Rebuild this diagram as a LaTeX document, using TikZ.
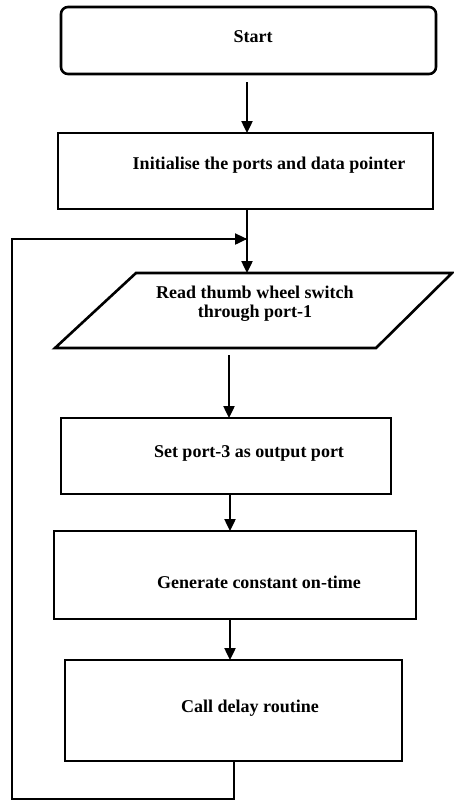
\documentclass[tikz,border=0pt]{standalone}
\usepackage{fontspec}
\setmainfont{Liberation Serif}
\usetikzlibrary{arrows.meta,shapes.geometric}
\begin{document}
\begin{tikzpicture}[x=1pt,y=-1pt,
  line width=2.6pt,
  boxline/.style={draw,line width=2.6pt},
  lbl/.style={font=\fontsize{18}{19}\selectfont\bfseries,align=center,inner sep=0pt},
  arr/.style={-{Triangle[length=12pt,width=11pt]},line width=2.4pt},
  conn/.style={line width=2.4pt}]
\useasboundingbox (0,0) rectangle (453,801);
\fill[white] (0,0) rectangle (453,801);
% boxes
\draw[boxline,rounded corners=7pt] (61,7) rectangle (436,74);
\node[lbl] (start) at (253,37) {Start};
\coordinate (startb) at (247,82);
\draw[boxline] (58,133) rectangle (433,209);
\node[lbl] (init) at (269,165) {Initialise the ports and data pointer};
\coordinate (initt) at (247,133);
\coordinate (initb) at (247,209);
\draw[boxline] (136,273) -- (452,273) -- (376,348) -- (55,348) -- cycle;
\node[lbl] (read) at (255,304) {Read thumb wheel switch\\through port-1};
\coordinate (readt) at (247,273);
\coordinate (readb) at (229,355);
\draw[boxline] (61,418) rectangle (391,494);
\node[lbl] (set) at (249,453) {Set port-3 as output port};
\coordinate (sett) at (229,418);
\coordinate (setb) at (230,494);
\draw[boxline] (54,531) rectangle (416,619);
\node[lbl] (gen) at (259,582) {Generate constant on-time};
\coordinate (gent) at (230,531);
\coordinate (genb) at (230,619);
\draw[boxline] (65,660) rectangle (402,761);
\node[lbl] (call) at (250,708) {Call delay routine};
\coordinate (callt) at (230,660);
\coordinate (callb) at (234,761);
\coordinate (loopbot) at (234,799);
\coordinate (loopbl) at (12,799);
\coordinate (looptl) at (12,239);
\coordinate (join) at (247,239);
% connectors
\draw[arr] (startb) -- (initt);
\draw[conn] (initb) -- (join);
\draw[arr] (join) -- (readt);
\draw[arr] (readb) -- (sett);
\draw[arr] (setb) -- (gent);
\draw[arr] (genb) -- (callt);
\draw[conn] (callb) -- (loopbot) -- (loopbl) -- (looptl) -- ([xshift=-1pt]join);
\draw[arr] (looptl) -- (join);
\end{tikzpicture}
\end{document}
